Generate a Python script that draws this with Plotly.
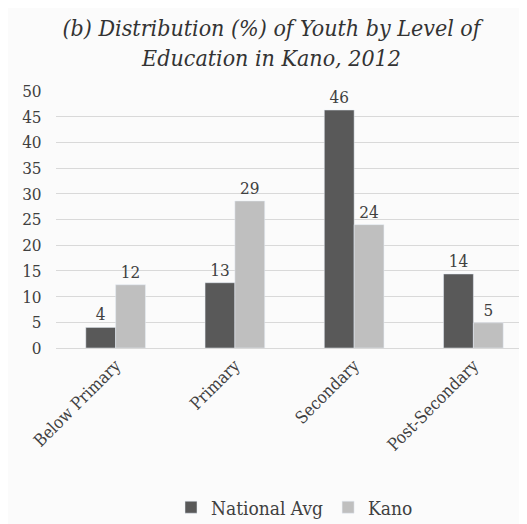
import plotly.graph_objects as go

categories = ["Below Primary", "Primary", "Secondary", "Post-Secondary"]
national_avg = [4.0, 12.7, 46.3, 14.4]
kano = [12.3, 28.6, 24.0, 4.9]
national_labels = ["4", "13", "46", "14"]
kano_labels = ["12", "29", "24", "5"]

FONT = "DejaVu Serif Condensed, DejaVu Serif"

fig = go.Figure()
fig.add_trace(go.Bar(
    x=categories, y=national_avg, name="National Avg",
    marker_color="#595959", text=national_labels, textposition="outside",
    textfont=dict(family=FONT, size=17, color="#404040"), cliponaxis=False
))
fig.add_trace(go.Bar(
    x=categories, y=kano, name="Kano",
    marker_color="#bfbfbf", text=kano_labels, textposition="outside",
    textfont=dict(family=FONT, size=17, color="#404040"), cliponaxis=False
))

fig.update_layout(
    width=527, height=524,
    title=dict(
        text="<i>(b) Distribution (%) of Youth by Level of<br>Education in Kano, 2012</i>",
        x=0.5, xanchor="center", y=0.946, yanchor="middle",
        font=dict(family=FONT, size=23, color="#333333")
    ),
    font=dict(family=FONT, size=17, color="#404040"),
    barmode="group", bargap=0.5, bargroupgap=0,
    plot_bgcolor="#fbfbfb", paper_bgcolor="#fbfbfb",
    margin=dict(l=48, r=2, t=83, b=184),
    legend=dict(orientation="h", x=0.5, xanchor="center", y=-0.62, yanchor="middle",
                font=dict(family=FONT, size=19), itemwidth=30),
    xaxis=dict(tickangle=-45, showline=True, linecolor="#d9d9d9", ticks=""),
    yaxis=dict(range=[0, 50], dtick=5, gridcolor="#d9d9d9", zeroline=False,
               ticks="outside", ticklen=10, tickcolor="rgba(0,0,0,0)"),
)

fig.write_html("out.html")
